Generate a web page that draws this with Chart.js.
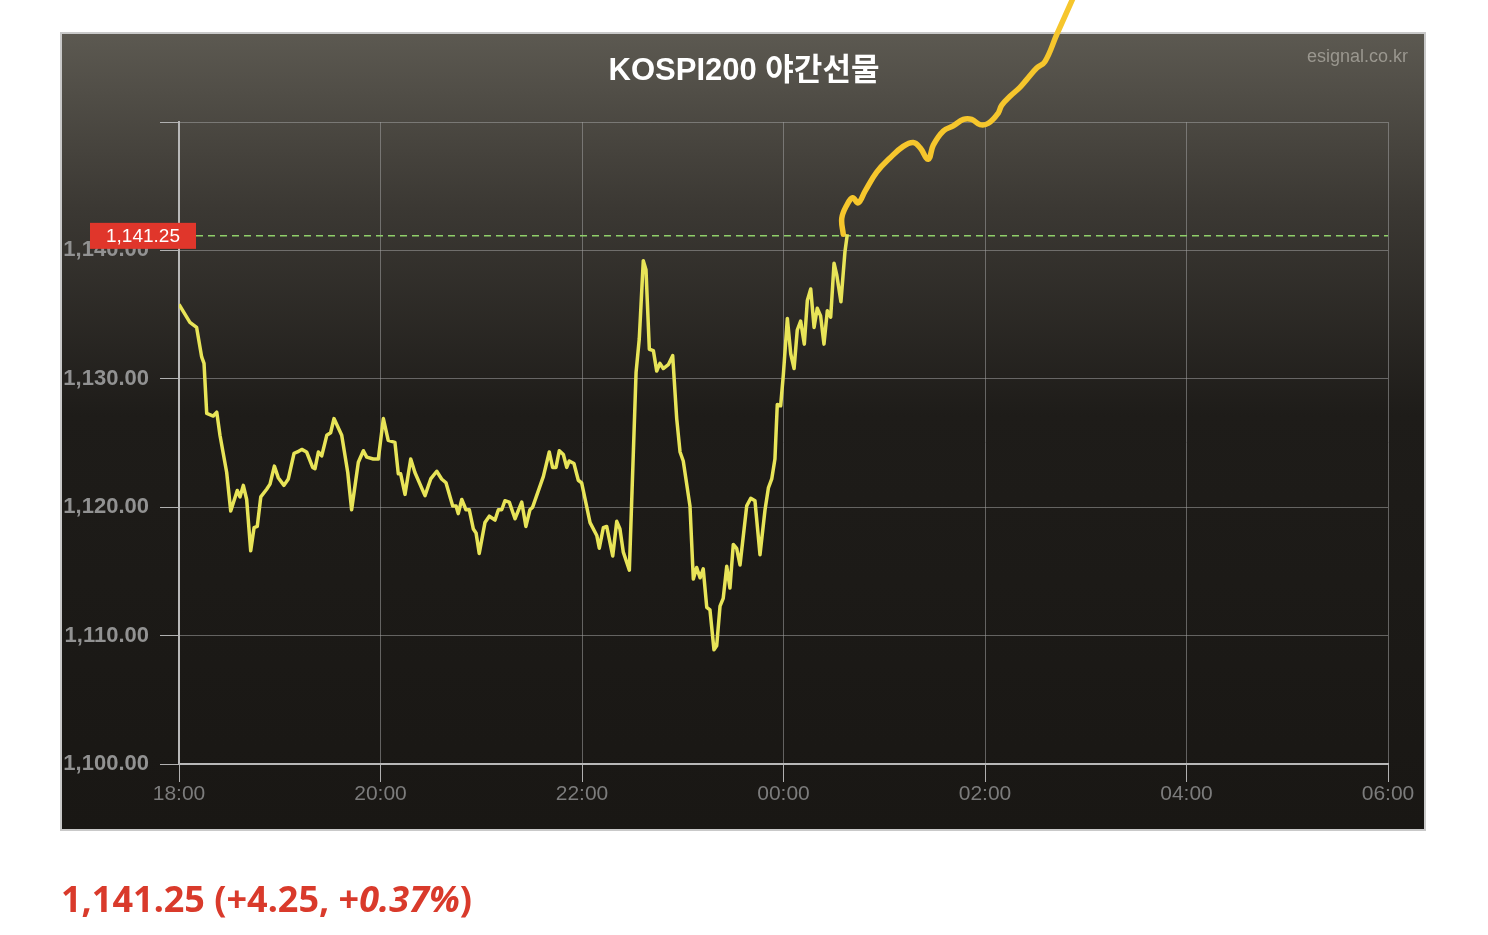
<!DOCTYPE html>
<html>
<head>
<meta charset="utf-8">
<script src="https://cdn.jsdelivr.net/npm/chart.js@4"></script>
<style>
  html, body { margin: 0; padding: 0; background: #fff; overflow: hidden; }
  #wrap { position: relative; width: 1488px; height: 935px; }
  #title { position: absolute; left: 0; width: 1488px; top: 44px; text-align: center;
    font: bold 31px "Liberation Sans", "Noto Sans CJK KR", sans-serif; color: #fff; }
  #site { position: absolute; right: 80px; top: 46px;
    font: 18px "Liberation Sans", sans-serif; color: #9a978f; }
  #quote { position: absolute; left: 61px; top: 874px;
    font: bold 36px "Noto Sans", sans-serif; color: #d93a2b; }
</style>
</head>
<body>
<div id="wrap">
  <canvas id="myChart"></canvas>
  <div id="title">KOSPI200 야간선물</div>
  <div id="site">esignal.co.kr</div>
  <div id="quote">1,141.25 (+4.25, +<i>0.37%</i>)</div>
</div>
<script>
// minutes after 18:00
var night_times = [0, 6.5, 10.5, 13.5, 14.9, 16.5, 20.4, 22.5, 24.4, 28.4, 30.8, 34.7, 36.3, 38.3, 40.3, 42.7, 44.7, 46.6, 48.7,
  52.2, 54.2, 56.8, 59.1, 62.5, 65.1, 68.5, 70.5, 73.1, 76.0, 79.6, 81.0, 83.0, 85.0, 88.0, 90.3, 92.3, 96.9, 100.5, 102.8,
  106.8, 109.8, 111.8, 115.7, 118.7, 121.7, 124.6, 128.6, 130.6, 132.0, 134.6, 138.0, 140.5, 146.5, 149.9, 153.5, 156.4,
  159.0, 163.0, 165.0, 166.3, 168.4, 170.9, 172.9, 175.3, 176.9, 178.8, 182.2, 184.8, 188.2, 190.2, 192.2, 194.1, 196.7,
  200.1, 204.1, 206.6, 209.0, 210.6, 217.0, 220.5, 222.5, 224.5, 226.5, 228.9, 230.9, 232.4, 235.2, 237.8, 239.8, 244.8,
  248.8, 250.3, 252.7, 254.7, 258.3, 260.7, 262.6, 264.6, 268.2, 272.2, 274.1, 276.5, 278.1, 280.1, 282.5, 284.5, 286.4,
  288.4, 291.4, 294.0, 296.4, 298.4, 300.3, 304.3, 306.3, 308.3, 310.3, 312.2, 314.3, 316.2, 318.6, 320.2, 322.2, 324.1,
  326.2, 328.1, 330.1, 332.1, 334.1, 338.1, 340.5, 343.0, 346.0, 349.0, 351.0, 353.0, 354.9, 356.3, 358.3, 359.9, 362.3,
  364.3, 366.3, 368.2, 370.2, 372.4, 374.2, 376.2, 378.2, 380.1, 382.1, 384.1, 386.1, 388.1, 390.1, 391.7, 394.2, 396.6, 398.0];
var night_prices = [1135.8, 1134.4, 1134.0, 1131.7, 1131.2, 1127.3, 1127.1, 1127.4, 1125.6, 1122.7, 1119.7, 1121.3, 1120.8, 1121.7, 1120.6, 1116.6, 1118.4, 1118.5, 1120.8,
  1121.4, 1121.8, 1123.2, 1122.3, 1121.7, 1122.2, 1124.2, 1124.3, 1124.5, 1124.3, 1123.1, 1123.0, 1124.3, 1124.0, 1125.6, 1125.8, 1126.9, 1125.6, 1122.7, 1119.8,
  1123.5, 1124.4, 1123.9, 1123.75, 1123.75, 1126.9, 1125.2, 1125.05, 1122.6, 1122.6, 1121.0, 1123.75, 1122.7, 1120.9, 1122.2, 1122.8, 1122.2,
  1121.9, 1120.1, 1120.1, 1119.5, 1120.6, 1119.8, 1119.8, 1118.3, 1118.0, 1116.4, 1118.8, 1119.3, 1119.0, 1119.8, 1119.8, 1120.5, 1120.4,
  1119.1, 1120.4, 1118.5, 1119.8, 1120.0, 1122.4, 1124.3, 1123.1, 1123.1, 1124.4, 1124.1, 1123.1, 1123.6, 1123.4, 1122.1, 1121.9, 1118.8,
  1117.8, 1116.8, 1118.4, 1118.5, 1116.2, 1118.9, 1118.3, 1116.5, 1115.1, 1130.5, 1133.1, 1139.2, 1138.5, 1132.3, 1132.2, 1130.6, 1131.2,
  1130.8, 1131.1, 1131.8, 1126.9, 1124.3, 1123.6, 1120.1, 1114.4, 1115.3, 1114.5, 1115.2, 1112.2, 1112.0, 1108.9, 1109.2, 1112.3, 1112.9,
  1115.4, 1113.7, 1117.1, 1116.8, 1115.5, 1120.1, 1120.7, 1120.5, 1116.3, 1119.8, 1121.5, 1122.2, 1123.75, 1128.0, 1127.9, 1130.3, 1134.7,
  1131.95, 1130.8, 1133.8, 1134.5, 1132.7, 1136.1, 1137.0, 1134.0, 1135.5, 1134.9, 1132.7, 1135.3, 1134.8, 1139.0, 1138.1, 1136.0, 1139.9, 1141.25];

// hand drawn trend stroke
var trend_times = [395.6, 394.7, 397.6, 401.2, 404.5, 408.5, 415.5, 423.4, 431.3, 437.3, 441.3, 446.2, 449.2, 455.2, 461.1, 467.1,
  472.1, 477.0, 482.0, 487.9, 489.9, 494.9, 500.8, 504.8, 510.8, 515.7, 522.7, 532.6];
var trend_prices = [1141.25, 1142.5, 1143.5, 1144.1, 1143.7, 1144.6, 1146.1, 1147.2, 1148.1, 1148.4, 1148.0, 1147.1, 1148.2, 1149.3, 1149.7, 1150.2,
  1150.2, 1149.8, 1149.9, 1150.7, 1151.3, 1152.0, 1152.7, 1153.3, 1154.2, 1154.7, 1156.8, 1159.7];

var time_labels = ['18:00', '20:00', '22:00', '00:00', '02:00', '04:00', '06:00'];
var last_price = 1141.25;
var last_label = '1,141.25';

function to_points (xs, ys) {
  var pts = [];
  for (var i = 0; i < xs.length; i++) pts.push({x: xs[i], y: ys[i]});
  return pts;
}

var panel_plugin = {
  id: 'panel',
  beforeDraw: function (chart) {
    var c = chart.ctx;
    var g = c.createLinearGradient(0, 33, 0, 830);
    g.addColorStop(0, '#5c5951');
    g.addColorStop(0.22, '#3b3833');
    g.addColorStop(0.48, '#1e1c19');
    g.addColorStop(1, '#191714');
    c.save();
    c.fillStyle = g;
    c.fillRect(61, 33, 1364, 797);
    c.strokeStyle = '#c9c9c9';
    c.lineWidth = 2;
    c.strokeRect(61, 33, 1364, 797);
    c.restore();
  },
  beforeDatasetsDraw: function (chart) {
    var c = chart.ctx;
    var y = chart.scales.y.getPixelForValue(last_price) + 1.5;
    c.save();
    c.strokeStyle = '#8fcf6a';
    c.lineWidth = 1.5;
    c.setLineDash([7, 5]);
    c.beginPath();
    c.moveTo(196, y);
    c.lineTo(chart.chartArea.right, y);
    c.stroke();
    c.restore();
  },
  afterDatasetsDraw: function (chart) {
    var c = chart.ctx;
    var y = chart.scales.y.getPixelForValue(last_price) + 1.5;
    c.save();
    c.fillStyle = '#e0362b';
    c.fillRect(90, y - 13, 106, 26);
    c.fillStyle = '#ffffff';
    c.font = '19px "Liberation Sans"';
    c.textAlign = 'center';
    c.textBaseline = 'middle';
    c.fillText(last_label, 143, y + 1);
    c.restore();
  }
};

Chart.defaults.font.family = '"Liberation Sans", sans-serif';

var ctx = document.getElementById('myChart').getContext('2d');
var chart = new Chart(ctx, {
  type: 'line',
  data: {
    datasets: [{
      data: to_points(night_times, night_prices),
      borderColor: 'rgb(232, 228, 88)',
      borderWidth: 3.5,
      pointRadius: 0,
      tension: 0,
      borderJoinStyle: 'round'
    }, {
      data: to_points(trend_times, trend_prices),
      borderColor: 'rgb(246, 198, 44)',
      borderWidth: 5.5,
      pointRadius: 0,
      tension: 0.4,
      borderCapStyle: 'round',
      clip: false
    }]
  },
  options: {
    responsive: true,
    maintainAspectRatio: false,
    animation: false,
    layout: { padding: { top: 122, right: 100, bottom: 0, left: 0 } },
    plugins: { legend: { display: false }, tooltip: { enabled: false } },
    scales: {
      x: {
        type: 'linear',
        min: 0,
        max: 720,
        afterFit: function (s) { s.height = 171; },
        border: { color: '#b8b8b8', width: 2 },
        grid: { color: 'rgba(160,160,160,0.55)', lineWidth: 1, tickColor: '#b0b0b0', tickLength: 18 },
        ticks: {
          stepSize: 120,
          padding: 0,
          maxRotation: 0,
          color: '#7c7c7c',
          font: { size: 21 },
          callback: function (v) { return time_labels[v / 120]; }
        }
      },
      y: {
        min: 1100,
        max: 1150,
        afterFit: function (s) { s.width = 179; },
        border: { color: '#b8b8b8', width: 2 },
        grid: { color: 'rgba(160,160,160,0.55)', lineWidth: 1, tickColor: '#b0b0b0', tickLength: 19 },
        ticks: {
          stepSize: 10,
          padding: 11,
          color: '#929292',
          font: { size: 22, weight: 'bold' },
          callback: function (v) {
            if (v >= 1150) return '';
            return v.toLocaleString('en-US', {minimumFractionDigits: 2, maximumFractionDigits: 2});
          }
        }
      }
    }
  },
  plugins: [panel_plugin]
});
</script>
</body>
</html>
